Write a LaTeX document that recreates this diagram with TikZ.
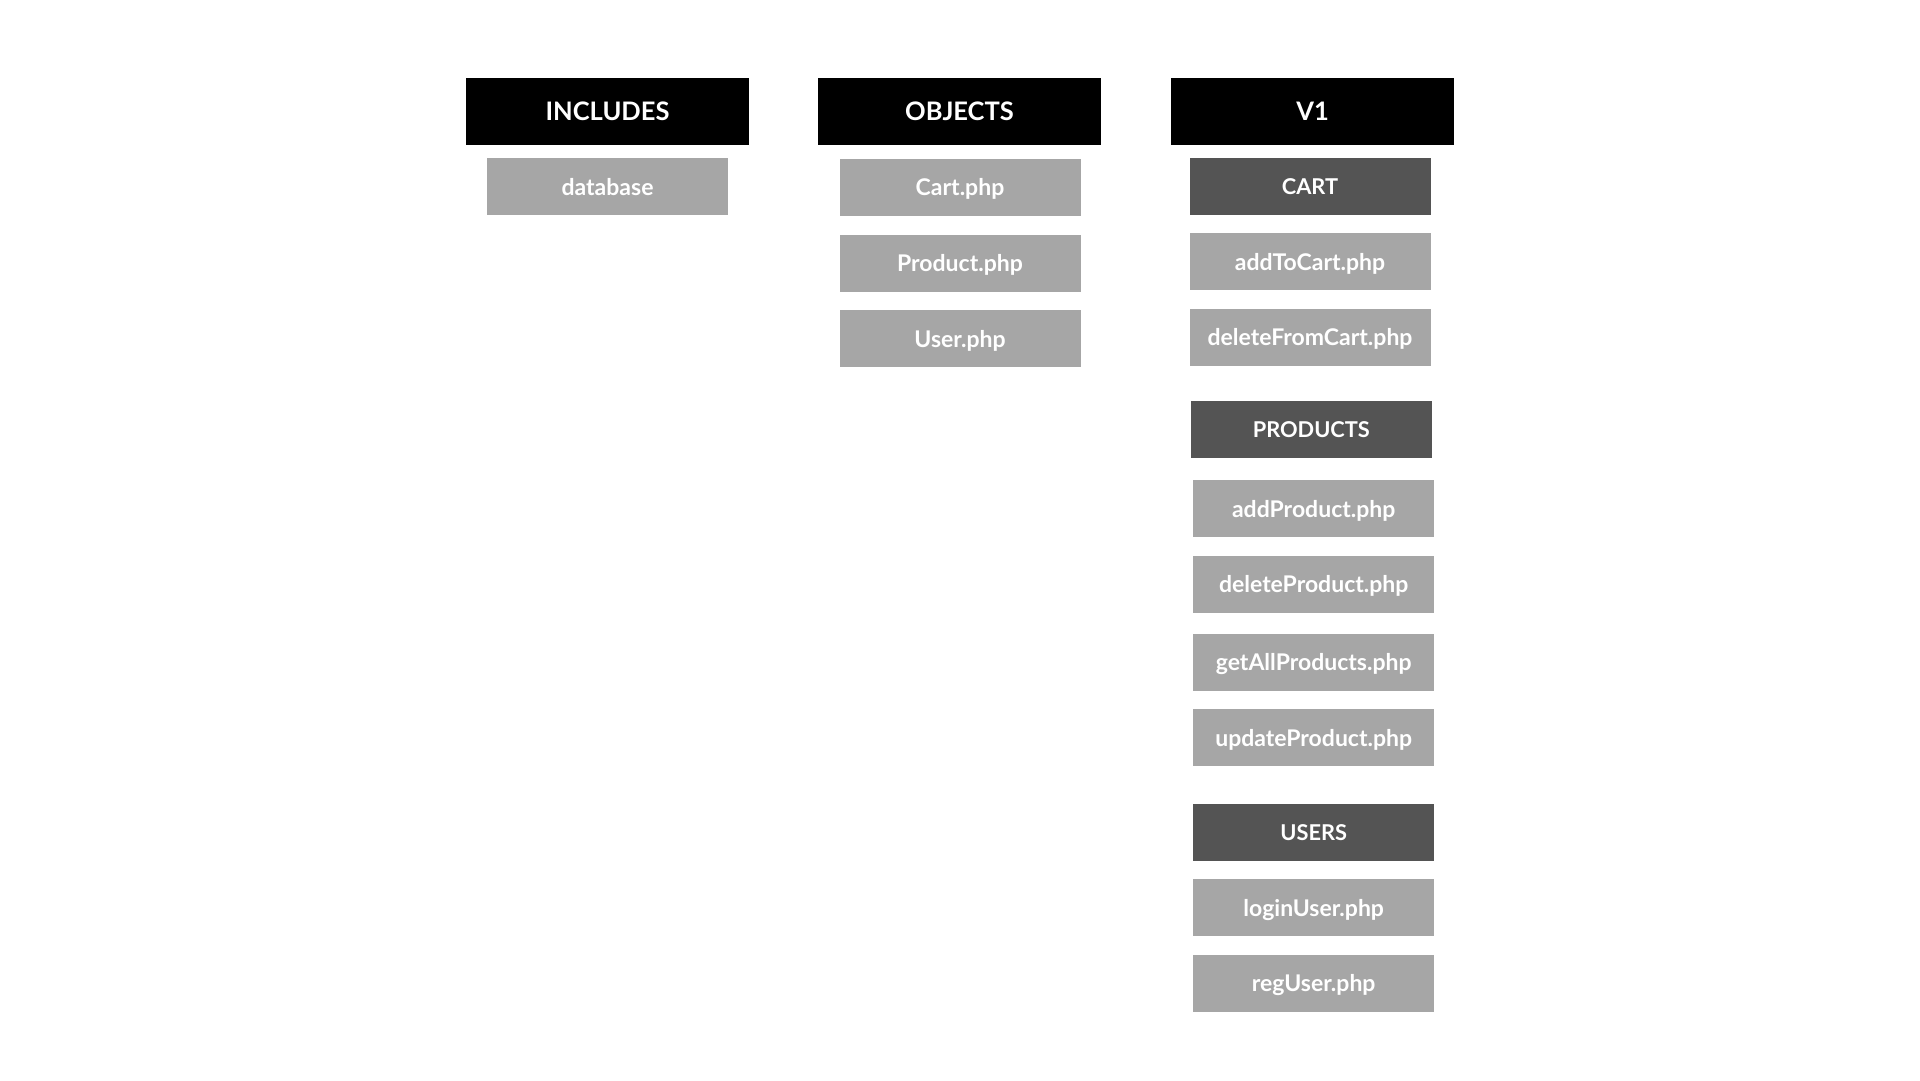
\documentclass[tikz,border=0pt]{standalone}
\usepackage{fontspec}
\setmainfont{Lato}
\definecolor{hdr}{HTML}{000000}
\definecolor{subhdr}{HTML}{545454}
\definecolor{item}{HTML}{A6A6A6}
\tikzset{
  hdrbox/.style={fill=hdr, text=white, inner sep=0pt, minimum width=283pt, minimum height=67pt, font=\fontsize{25.5}{30}\selectfont\bfseries},
  subbox/.style={fill=subhdr, text=white, inner sep=0pt, minimum width=241pt, minimum height=57pt, font=\fontsize{21.8}{26}\selectfont\bfseries},
  itembox/.style={fill=item, text=white, inner sep=0pt, text depth=0pt, minimum width=241pt, minimum height=57pt, font=\fontsize{23}{28}\selectfont\bfseries},
}
\begin{document}
\begin{tikzpicture}[x=1pt,y=-1pt]
\useasboundingbox[fill=white] (0,0) rectangle (1920,1080);
\node[hdrbox] (inc) at (607.5,111.7) {INCLUDES};
\node[hdrbox] (obj) at (959.5,111.7) {OBJECTS};
\node[hdrbox] (v1) at (1312.7,111.7) {V1};
\node[itembox] (db) at (607.5,186.8) {database};
\node[itembox] (cartphp) at (960,187) {Cart.php};
\node[itembox] (prodphp) at (960,263.3) {Product.php};
\node[itembox] (userphp) at (960,338.8) {User.php};
\node[subbox] (cart) at (1310,186.7) {CART};
\node[itembox] (add2cart) at (1310,261.5) {addToCart.php};
\node[itembox] (delcart) at (1310,337) {deleteFromCart.php};
\node[subbox] (prods) at (1311.3,429.7) {PRODUCTS};
\node[itembox] (addprod) at (1313.7,508.5) {addProduct.php};
\node[itembox] (delprod) at (1313.7,584.3) {deleteProduct.php};
\node[itembox] (getall) at (1313.7,662.3) {getAllProducts.php};
\node[itembox] (updprod) at (1313.7,737.7) {updateProduct.php};
\node[subbox] (users) at (1313.7,832.5) {USERS};
\node[itembox] (login) at (1313.7,907.7) {loginUser.php};
\node[itembox] (reg) at (1313.7,983.3) {regUser.php};
\end{tikzpicture}
\end{document}
